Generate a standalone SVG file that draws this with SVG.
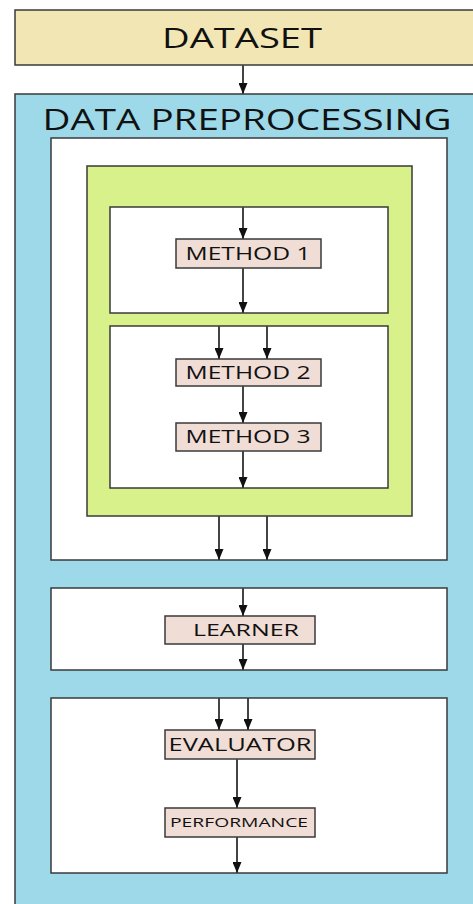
<svg xmlns="http://www.w3.org/2000/svg" width="473" height="904" viewBox="0 0 473 904">
<defs>
<marker id="ah" viewBox="0 0 11 9" refX="11" refY="4.5" markerWidth="11" markerHeight="9" markerUnits="userSpaceOnUse" orient="auto">
<path d="M0,0 L11,4.5 L0,9 z" fill="#111"/>
</marker>
<style>
.box{stroke:#3a3a3a;stroke-width:1.5}
.white{fill:#ffffff}
.node{fill:#f0ddd5;stroke:#3a3a3a;stroke-width:1.5}
.t{font-family:"Open Sans","Liberation Sans",sans-serif;fill:#111;text-anchor:middle}
.conn line{stroke:#444;stroke-width:2;marker-end:url(#ah)}
</style>
</defs>
<rect width="473" height="904" fill="#ffffff"/>
<g id="dataset">
<rect class="box" x="15" y="10" width="470" height="55" fill="#f1e6b4"/>
<text class="t" x="242" y="48" font-size="28" textLength="160" lengthAdjust="spacingAndGlyphs">DATASET</text>
</g>
<g id="preprocessing">
<rect class="box" x="15" y="94" width="470" height="820" fill="#9dd9e9"/>
<text class="t" x="247" y="130" font-size="30" textLength="409" lengthAdjust="spacingAndGlyphs">DATA PREPROCESSING</text>
</g>
<g id="stage1">
<rect class="box white" x="51" y="138" width="396" height="422"/>
</g>
<g id="methods-group">
<rect class="box" x="87" y="166" width="325" height="350" fill="#d9f18b"/>
</g>
<g id="panel-a">
<rect class="box white" x="110" y="207" width="278" height="106"/>
</g>
<g id="panel-b">
<rect class="box white" x="110" y="326" width="278" height="162"/>
</g>
<g id="method1">
<rect class="node" x="176" y="239" width="145" height="29"/>
<text class="t" x="248" y="260" font-size="18" textLength="125" lengthAdjust="spacingAndGlyphs">METHOD 1</text>
</g>
<g id="method2">
<rect class="node" x="176" y="359" width="145" height="27"/>
<text class="t" x="248" y="379" font-size="18" textLength="125" lengthAdjust="spacingAndGlyphs">METHOD 2</text>
</g>
<g id="method3">
<rect class="node" x="176" y="423" width="145" height="28"/>
<text class="t" x="248" y="443" font-size="18" textLength="125" lengthAdjust="spacingAndGlyphs">METHOD 3</text>
</g>
<g id="stage2">
<rect class="box white" x="51" y="588" width="396" height="82"/>
</g>
<g id="learner">
<rect class="node" x="165" y="616" width="150" height="28"/>
<text class="t" x="246" y="636" font-size="17" textLength="106" lengthAdjust="spacingAndGlyphs">LEARNER</text>
</g>
<g id="stage3">
<rect class="box white" x="51" y="698" width="396" height="175"/>
</g>
<g id="evaluator">
<rect class="node" x="165" y="730" width="150" height="29"/>
<text class="t" x="240" y="751" font-size="18" textLength="143" lengthAdjust="spacingAndGlyphs">EVALUATOR</text>
</g>
<g id="performance">
<rect class="node" x="165" y="808" width="150" height="29"/>
<text class="t" x="239" y="827" font-size="13" textLength="138" lengthAdjust="spacingAndGlyphs">PERFORMANCE</text>
</g>
<g id="connectors" class="conn">
<line x1="243" y1="65" x2="243" y2="94"/>
<line x1="243" y1="207" x2="243" y2="239"/>
<line x1="243" y1="268" x2="243" y2="313"/>
<line x1="219" y1="326" x2="219" y2="359"/>
<line x1="267" y1="326" x2="267" y2="359"/>
<line x1="243" y1="386" x2="243" y2="423"/>
<line x1="243" y1="451" x2="243" y2="488"/>
<line x1="219" y1="516" x2="219" y2="560"/>
<line x1="267" y1="516" x2="267" y2="560"/>
<line x1="243" y1="588" x2="243" y2="616"/>
<line x1="243" y1="644" x2="243" y2="670"/>
<line x1="219" y1="698" x2="219" y2="730"/>
<line x1="248" y1="698" x2="248" y2="730"/>
<line x1="237" y1="759" x2="237" y2="808"/>
<line x1="237" y1="837" x2="237" y2="873"/>
</g>
</svg>
